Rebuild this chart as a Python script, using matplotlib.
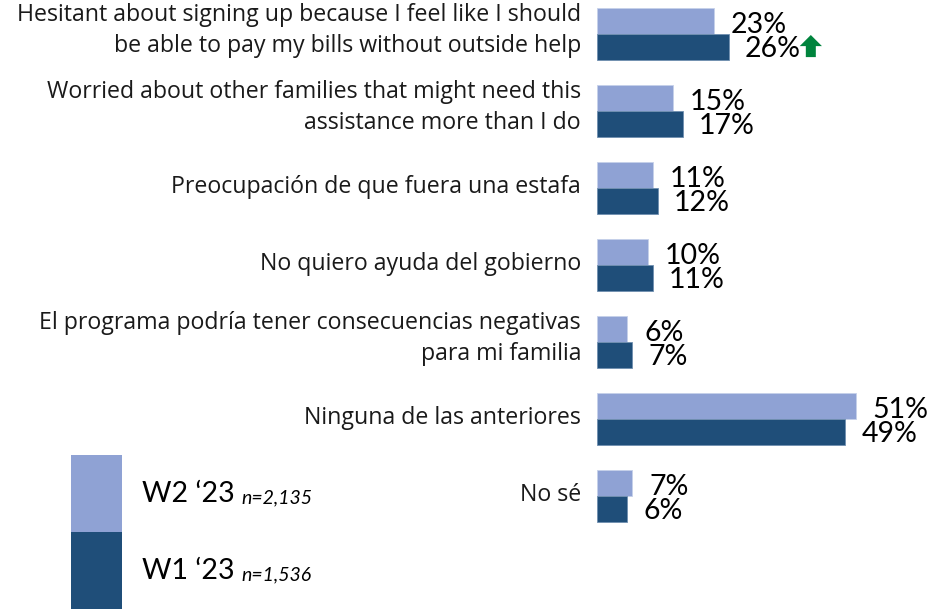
import matplotlib
matplotlib.use("Agg")
import matplotlib.pyplot as plt
from matplotlib.patches import Rectangle
import numpy as np

W, H = 936, 613

categories = [
    "Hesitant about signing up because I feel like I should\nbe able to pay my bills without outside help",
    "Worried about other families that might need this\nassistance more than I do",
    "Preocupación de que fuera una estafa",
    "No quiero ayuda del gobierno",
    "El programa podría tener consecuencias negativas\npara mi familia",
    "Ninguna de las anteriores",
    "No sé",
]
w2_values = [23, 15, 11, 10, 6, 51, 7]
w1_values = [26, 17, 12, 11, 7, 49, 6]
legend_names = ["W2 ‘23", "W1 ‘23"]
legend_bases = ["n=2,135", "n=1,536"]

LIGHT = "#8FA2D4"
DARK = "#1F4E79"
GREEN = "#00843D"
LABEL_FONT = "Open Sans"
VALUE_FONT = "Lato"

fig = plt.figure(figsize=(W / 100, H / 100), dpi=100)
left = 597
ax = fig.add_axes([left / W, 0, 1 - left / W, 1])
ax.set_xlim(0, (W - left) / 5.07)
# 77 px between groups, first group centred 34 px from the top
ax.set_ylim((H - 34) / 77, -34 / 77)
ax.axis("off")

y = np.arange(len(categories))
bar_h = 0.335
ax.barh(y - bar_h / 2, w2_values, bar_h, color=LIGHT, edgecolor="#C5D0EA", linewidth=0.6)
ax.barh(y + bar_h / 2, w1_values, bar_h, color=DARK, edgecolor="#6F8FB0", linewidth=0.6)

for i in range(len(categories)):
    lift = 2.5 if "\n" in categories[i] else 1
    ax.annotate(categories[i], (0, y[i]), xytext=(-11.5, lift), textcoords="offset points",
                ha="right", va="center", fontsize=16.7, family=LABEL_FONT,
                color="#1a1a1a", linespacing=1.35, annotation_clip=False)
    ax.annotate(f"{w2_values[i]}%", (w2_values[i], y[i] - bar_h / 2), xytext=(12, -3),
                textcoords="offset points", ha="left", va="center", fontsize=20.5, family=VALUE_FONT)
    ax.annotate(f"{w1_values[i]}%", (w1_values[i], y[i] + bar_h / 2), xytext=(11.5, -1.5),
                textcoords="offset points", ha="left", va="center", fontsize=20.5, family=VALUE_FONT)

# significance arrow after the first W1 value
arrow_x = w1_values[0] + 82 / 5.07
ax.annotate("", xy=(arrow_x, y[0] + 0.013), xytext=(arrow_x, y[0] + 0.30),
            arrowprops=dict(width=7.2, headwidth=16, headlength=8, color=GREEN, lw=0, shrink=0))

# legend swatches and labels, stacked
sw_colors = [LIGHT, DARK]
for k in range(2):
    top = 455 + 77 * k
    fig.add_artist(Rectangle((71 / W, 1 - (top + 77) / H), 51 / W, 77 / H,
                             transform=fig.transFigure, color=sw_colors[k], lw=0))
    fig.text(142 / W, 1 - (top + 39) / H, legend_names[k], fontsize=20.5, family=VALUE_FONT,
             va="center", ha="left")
    fig.text(241 / W, 1 - (top + 43) / H, legend_bases[k], fontsize=14, family=VALUE_FONT,
             style="italic", va="center", ha="left")

fig.savefig("out.png", dpi=100)
